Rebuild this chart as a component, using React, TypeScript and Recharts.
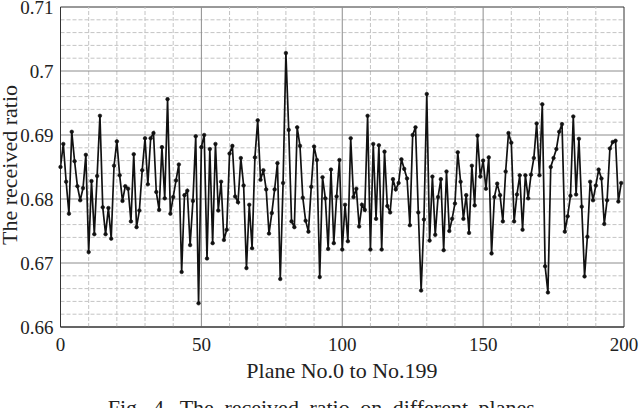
import React from "react";
import { LineChart, Line, XAxis, YAxis, ReferenceLine, ReferenceArea } from "recharts";

const ratio0to49 = [
  0.6850, 0.6886, 0.6827, 0.6777, 0.6905, 0.6859, 0.6820, 0.6798, 0.6817, 0.6869,
  0.6717, 0.6828, 0.6745, 0.6836, 0.6930, 0.6787, 0.6745, 0.6786, 0.6738, 0.6852,
  0.6890, 0.6837, 0.6797, 0.6820, 0.6816, 0.6765, 0.6870, 0.6756, 0.6782, 0.6845,
  0.6895, 0.6823, 0.6895, 0.6903, 0.6811, 0.6783, 0.6881, 0.6801, 0.6956, 0.6777,
  0.6803, 0.6829, 0.6854, 0.6686, 0.6806, 0.6813, 0.6728, 0.6797, 0.6898, 0.6637,
];
const ratio50to99 = [
  0.6881, 0.6900, 0.6707, 0.6878, 0.6731, 0.6886, 0.6782, 0.6827, 0.6736, 0.6752,
  0.6871, 0.6883, 0.6804, 0.6795, 0.6864, 0.6821, 0.6692, 0.6791, 0.6723, 0.6865,
  0.6923, 0.6830, 0.6845, 0.6815, 0.6746, 0.6778, 0.6815, 0.6856, 0.6675, 0.6825,
  0.7028, 0.6908, 0.6765, 0.6756, 0.6912, 0.6883, 0.6802, 0.6766, 0.6749, 0.6819,
  0.6882, 0.6861, 0.6678, 0.6834, 0.6801, 0.6722, 0.6846, 0.6731, 0.6804, 0.6861,
];
const ratio100to149 = [
  0.6721, 0.6791, 0.6734, 0.6895, 0.6803, 0.6816, 0.6757, 0.6791, 0.6783, 0.6930,
  0.6721, 0.6886, 0.6769, 0.6884, 0.6721, 0.6874, 0.6789, 0.6779, 0.6831, 0.6815,
  0.6825, 0.6862, 0.6847, 0.6832, 0.6759, 0.6900, 0.6912, 0.6779, 0.6657, 0.6768,
  0.6964, 0.6735, 0.6835, 0.6744, 0.6803, 0.6831, 0.6720, 0.6843, 0.6750, 0.6769,
  0.6793, 0.6873, 0.6827, 0.6769, 0.6806, 0.6747, 0.6852, 0.6790, 0.6899, 0.6835,
];
const ratio150to199 = [
  0.6860, 0.6816, 0.6865, 0.6715, 0.6803, 0.6824, 0.6806, 0.6765, 0.6843, 0.6903,
  0.6888, 0.6765, 0.6807, 0.6837, 0.6752, 0.6837, 0.6801, 0.6838, 0.6864, 0.6918,
  0.6837, 0.6948, 0.6695, 0.6654, 0.6850, 0.6864, 0.6878, 0.6905, 0.6917, 0.6749,
  0.6773, 0.6805, 0.6929, 0.6807, 0.6894, 0.6788, 0.6679, 0.6741, 0.6827, 0.6798,
  0.6821, 0.6846, 0.6832, 0.6761, 0.6798, 0.6879, 0.6889, 0.6891, 0.6796, 0.6825,
];

const xTicks = [0, 50, 100, 150, 200];
const yTicks = [0.66, 0.67, 0.68, 0.69, 0.7, 0.71];
const xMinor = [10, 20, 30, 40, 60, 70, 80, 90, 110, 120, 130, 140, 160, 170, 180, 190];
const yMinor = [
  0.662, 0.664, 0.666, 0.668, 0.672, 0.674, 0.676, 0.678, 0.682, 0.684,
  0.686, 0.688, 0.692, 0.694, 0.696, 0.698, 0.702, 0.704, 0.706, 0.708,
];
const xMajorGrid = [50, 100, 150];
const yMajorGrid = [0.67, 0.68, 0.69, 0.7];

const xLabel = "Plane No.0 to No.199";
const yLabel = "The received ratio";
const caption = "Fig. 4. The received ratio on different planes.";

const ratios = [...ratio0to49, ...ratio50to99, ...ratio100to149, ...ratio150to199];
const data = ratios.map((r, i) => ({ plane: i, ratio: r }));

const FONT = '"Liberation Serif", "Times New Roman", Times, serif';

export default function App() {
  return (
    <div style={{ position: "absolute", left: 0, top: 0, width: 640, height: 408, background: "#fff", overflow: "hidden" }}>
      <LineChart width={640} height={408} data={data} margin={{ top: 7, right: 16, bottom: 0, left: 0 }}>
        <XAxis
          dataKey="plane"
          type="number"
          domain={[0, 200]}
          ticks={xTicks}
          interval={0}
          height={81}
          tickLine={false}
          tickSize={0}
          tickMargin={11}
          axisLine={{ stroke: "#333", strokeWidth: 1 }}
          tick={{ fill: "#222", fontSize: 19, fontFamily: FONT }}
        />
        <YAxis
          type="number"
          domain={[0.66, 0.71]}
          ticks={yTicks}
          interval={0}
          width={60.5}
          tickLine={false}
          tickSize={0}
          tickMargin={7}
          axisLine={{ stroke: "#333", strokeWidth: 1 }}
          allowDataOverflow
          tickFormatter={(v: number) => String(Number(v.toFixed(2)))}
          tick={{ fill: "#222", fontSize: 19, fontFamily: FONT }}
        />
        {xMinor.map((v) => (
          <ReferenceLine key={"xm" + v} x={v} stroke="#c4c4c4" strokeWidth={1} strokeDasharray="4 2" />
        ))}
        {yMinor.map((v) => (
          <ReferenceLine key={"ym" + v} y={v} stroke="#c4c4c4" strokeWidth={1} strokeDasharray="4 2" />
        ))}
        {xMajorGrid.map((v) => (
          <ReferenceLine key={"xM" + v} x={v} stroke="#8c8c8c" strokeWidth={1} />
        ))}
        {yMajorGrid.map((v) => (
          <ReferenceLine key={"yM" + v} y={v} stroke="#8c8c8c" strokeWidth={1} />
        ))}
        <ReferenceArea x1={0} x2={200} y1={0.66} y2={0.71} fill="none" fillOpacity={0} stroke="#333" strokeWidth={1} />
        <Line
          type="linear"
          dataKey="ratio"
          stroke="#111"
          strokeWidth={1.7}
          dot={{ r: 1.8, fill: "#111", stroke: "#111", strokeWidth: 0.6 }}
          isAnimationActive={false}
        />
      </LineChart>
      <svg width={640} height={408} style={{ position: "absolute", left: 0, top: 0, pointerEvents: "none" }}>
        <text x={342} y={378} textAnchor="middle" fontSize={22} fontFamily={FONT} fill="#222">
          {xLabel}
        </text>
        <text transform="translate(17,165) rotate(-90)" x={0} y={0} textAnchor="middle" fontSize={22} fontFamily={FONT} fill="#222">
          {yLabel}
        </text>
        <text x={324} y={415} textAnchor="middle" fontSize={22} fontFamily={FONT} fill="#222" style={{ wordSpacing: 5 }}>
          {caption}
        </text>
      </svg>
    </div>
  );
}
